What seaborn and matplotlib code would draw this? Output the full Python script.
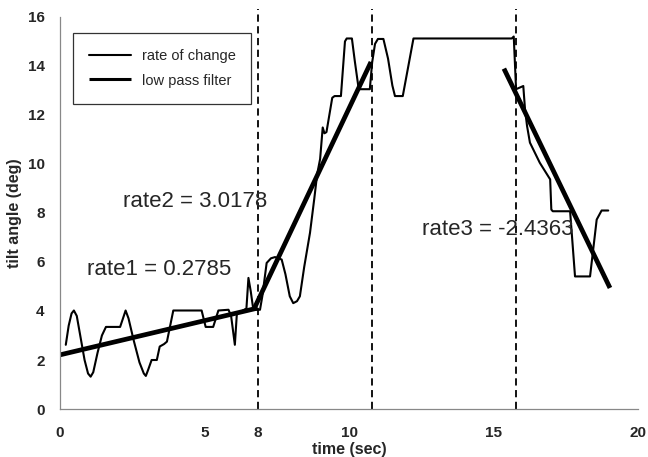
import matplotlib
matplotlib.use("Agg")
import matplotlib.pyplot as plt
import seaborn as sns
import pandas as pd

# ---- data ----
rate_time = [0.20, 0.30, 0.40, 0.48, 0.58, 0.70, 0.85, 0.97, 1.06, 1.15, 1.30, 1.45, 1.59,
             2.08, 2.18, 2.27, 2.37, 2.55, 2.75, 2.90, 2.97, 3.05, 3.17, 3.35, 3.45, 3.60,
             3.70, 3.92, 4.90, 5.04, 5.30, 5.48, 5.83, 5.92, 6.05, 6.12, 6.30, 6.45, 6.52,
             6.60, 6.68, 6.80, 6.92, 7.00, 7.15, 7.30, 7.44, 7.67, 7.80, 7.95, 8.07, 8.20,
             8.30, 8.45, 8.65, 8.80, 8.90, 9.00, 9.09, 9.15, 9.22, 9.42, 9.50, 9.72, 9.86,
             9.92, 10.10, 10.20, 10.33, 10.38, 10.72, 10.80, 10.90, 11.00, 11.19, 11.35,
             11.50, 11.59, 11.86, 12.23, 15.63, 15.70, 15.78, 16.03, 16.09, 16.16, 16.26,
             16.60, 16.96, 17.00, 17.05, 17.65, 17.82, 18.34, 18.57, 18.74, 18.97]
rate_angle = [2.62, 3.40, 3.90, 4.02, 3.80, 3.00, 2.00, 1.45, 1.32, 1.50, 2.30, 3.00, 3.35,
              3.35, 3.70, 4.02, 3.70, 2.80, 1.90, 1.45, 1.35, 1.60, 2.00, 2.00, 2.55, 2.65,
              2.75, 4.02, 4.02, 3.35, 3.35, 4.02, 4.05, 3.80, 2.62, 3.90, 4.00, 4.10, 5.35,
              4.80, 4.13, 4.05, 4.05, 4.60, 5.96, 6.15, 6.20, 6.10, 5.50, 4.60, 4.32, 4.40,
              4.60, 5.80, 7.19, 8.60, 9.60, 10.20, 11.49, 11.25, 11.30, 12.70, 12.77, 12.77,
              15.00, 15.12, 15.12, 14.20, 13.10, 13.05, 13.05, 14.14, 14.90, 15.10, 15.10,
              14.30, 13.20, 12.77, 12.77, 15.12, 15.12, 15.20, 13.05, 13.18, 12.23, 11.55,
              10.87, 10.05, 9.37, 8.14, 8.07, 8.07, 5.41, 5.41, 7.73, 8.10, 8.10]

filter_segment = [1, 1, 2, 2, 3, 3]
filter_time = [0.0, 6.84, 6.70, 10.76, 15.36, 19.03]
filter_angle = [2.21, 4.12, 4.05, 14.16, 13.89, 4.94]

split_times = [6.84, 10.80, 15.78]
x_ticks = [0, 5, 6.84, 10, 15, 20]
x_tick_labels = ["0", "5", "8", "10", "15", "20"]
y_ticks = [0, 2, 4, 6, 8, 10, 12, 14, 16]
rate_labels = ["rate1 = 0.2785", "rate2 = 3.0178", "rate3 = -2.4363"]

# ---- style ----
sns.set_style("white")
plt.rcParams["font.family"] = ["Liberation Sans", "DejaVu Sans"]

fig = plt.figure(figsize=(6.48, 4.57), dpi=100)
ax = fig.add_axes([0.0926, 0.105, 0.892, 0.858])

rate_df = pd.DataFrame({"time": rate_time, "angle": rate_angle})
filt_df = pd.DataFrame({"time": filter_time, "angle": filter_angle, "seg": filter_segment})

sns.lineplot(data=rate_df, x="time", y="angle", sort=False, estimator=None,
             color="black", linewidth=1.5, ax=ax, label="rate of change")
for i, (seg, g) in enumerate(filt_df.groupby("seg")):
    sns.lineplot(data=g, x="time", y="angle", sort=False, estimator=None,
                 color="black", linewidth=3.4, ax=ax,
                 label="low pass filter" if i == 0 else None,
                 solid_capstyle="butt")

for t in split_times:
    ax.axvline(t, ymin=0, ymax=1.02, color="black", linewidth=1.3,
               linestyle=(0, (4, 2.5)), clip_on=False)

ax.set_xlim(0, 20)
ax.set_ylim(0, 16)
ax.set_xticks(x_ticks)
ax.set_xticklabels(x_tick_labels, fontweight="bold", fontsize=11)
ax.set_yticks(y_ticks)
ax.set_yticklabels([str(v) for v in y_ticks], fontweight="bold", fontsize=11)
ax.tick_params(axis="y", direction="out", length=4, width=0.8, color="#777777", pad=7)
ax.tick_params(axis="x", direction="inout", length=5, width=0.8, color="#777777", pad=10)
ax.set_xlabel("time (sec)", fontweight="bold", fontsize=11.5, labelpad=1)
ax.set_ylabel("tilt angle (deg)", fontweight="bold", fontsize=11.5, labelpad=4)

for s in ["top", "right"]:
    ax.spines[s].set_visible(False)
for s in ["left", "bottom"]:
    ax.spines[s].set_color("#888888")
    ax.spines[s].set_linewidth(0.9)

ax.text(0.92, 5.48, rate_labels[0], fontsize=16)
ax.text(2.18, 8.26, rate_labels[1], fontsize=16)
ax.text(12.51, 7.12, rate_labels[2], fontsize=16)

leg = ax.legend(loc="upper left", bbox_to_anchor=(0.0225, 0.96), frameon=True,
                fancybox=False, edgecolor="black", fontsize=10.5, handlelength=2.9,
                borderpad=1.1, labelspacing=0.75, handletextpad=0.7, borderaxespad=0)
leg.get_frame().set_linewidth(0.9)
leg.get_lines()[1].set_linewidth(2.2)

fig.savefig("out.png", dpi=100)
